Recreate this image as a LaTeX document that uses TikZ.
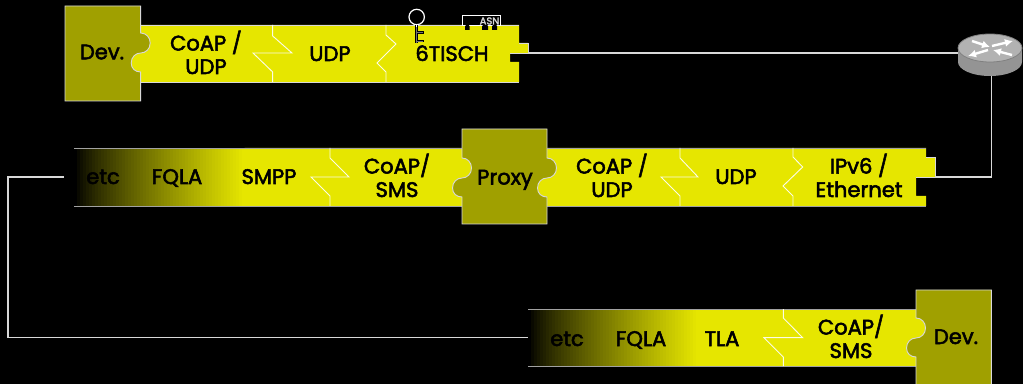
\documentclass[tikz,border=0pt]{standalone}
\usepackage{fontspec}
\setmainfont{Poppins}[FakeBold=2.5]
\usetikzlibrary{arrows.meta}
\definecolor{bandY}{HTML}{E6E600}
\definecolor{boxY}{HTML}{A0A000}
\definecolor{edgeG}{HTML}{D8D8D8}
\newcommand{\sdown}[2]{.. controls ({#1+5.5},{#2}) and ({#1+9.5},{#2+4.5}) .. ({#1+9.5},{#2+10}) .. controls ({#1+9.5},{#2+16}) and ({#1+5},{#2+20}) .. ({#1},{#2+20}) .. controls ({#1-5},{#2+20}) and ({#1-9.5},{#2+24}) .. ({#1-9.5},{#2+30}) .. controls ({#1-9.5},{#2+35.5}) and ({#1-5.5},{#2+39}) .. ({#1},{#2+39})}
\newcommand{\supward}[2]{.. controls ({#1-5.5},{#2+39}) and ({#1-9.5},{#2+35.5}) .. ({#1-9.5},{#2+30}) .. controls ({#1-9.5},{#2+24}) and ({#1-5},{#2+20}) .. ({#1},{#2+20}) .. controls ({#1+5},{#2+20}) and ({#1+9.5},{#2+16}) .. ({#1+9.5},{#2+10}) .. controls ({#1+9.5},{#2+4.5}) and ({#1+5.5},{#2}) .. ({#1},{#2})}
% #1 left x, #2 top y, #3 bottom y: black-to-yellow ramp over 171 px in strips
\newcommand{\ramp}[3]{\foreach \i in {0,...,56}{\pgfmathsetmacro{\pc}{\i==0 ? 0 : min(100,100*(\i/56)^0.8)}\fill[bandY!\pc!black] ({#1+\i*3},#2) rectangle ({#1+\i*3+3.6},#3);}}
\tikzset{
  lbl/.style={font=\fontsize{15.8}{17.6}\selectfont, text=black, inner sep=0pt, align=center, anchor=base},
  bandfill/.style={fill=bandY},
  rim/.style={draw=edgeG, line width=0.7pt},
  sep/.style={draw=white!90!bandY, line width=0.7pt, miter limit=10},
  boxshape/.style={fill=boxY, draw=edgeG, line width=0.7pt},
  wire/.style={draw=edgeG, line width=1.1pt},
  rarrow/.style={white, line width=1.8pt, -{Latex[length=6pt,width=6pt]}},
}
\begin{document}
\begin{tikzpicture}[x=0.75pt,y=-0.75pt]
\useasboundingbox[fill=black] (0,0) rectangle (1023,384);

% row 1 band
\path[bandfill] (125,25) -- (519,25) -- (519,43) -- (528,43) -- (528,53) -- (510,53) -- (510,62) -- (519,62) -- (519,82) -- (125,82) -- cycle;
\draw[rim] (125,25) -- (519,25) (125,82) -- (519,82) (519,43) -- (528,43) -- (528,53) -- (510,53);
\draw[sep] (272.7,25) -- (272.7,36) -- (292,53) -- (253,53) -- (272.7,72) -- (272.7,82);
\draw[sep] (386,25) -- (386,35) -- (396,44) -- (377,63) -- (386,72) -- (386,82);
\draw[boxshape] (65,6) -- (140.7,6) -- (140.7,33) \sdown{140.7}{33} -- (140.7,101) -- (65,101) -- cycle;
\node[lbl] (devAt) at (102,59.3) {Dev.};
\node[lbl] (coapA) at (206,74) {CoAP /\\UDP};
\node[lbl] (udpA) at (330,61) {UDP};
\node[lbl] (tisch) at (452,61) {6TISCH};

% key
\draw[white, line width=0.9pt] (416.7,17) circle [radius=7.7];
\draw[black, line width=2.4pt] (416.7,25) -- (416.7,43.5);
\draw[black, line width=2.2pt] (416.7,32.5) -- (424,32.5) (416.7,41) -- (424,41);
\draw[black!55, line width=0.5pt] (416.7,27) -- (416.7,43);
\draw[black!55, line width=0.4pt] (416.7,32.5) -- (423,32.5) (416.7,41) -- (423,41);
\draw[white, line width=0.8pt] (416.7,24.7) -- (416.7,27);

% chip
\fill[black] (465,24) rectangle (469.5,30) (482,24) rectangle (488,30) (492,24) rectangle (497,30);
\draw[white, line width=0.7pt, fill=black] (462,15) rectangle (500,25);
\fill[black] (465.5,24) rectangle (469,26) (482.5,24) rectangle (487.5,26) (492.5,24) rectangle (496.5,26);
\node[text=edgeG, font=\fontsize{7.5}{8}\selectfont, inner sep=0pt] (asn) at (489.5,21) {ASN};

% router
\node[inner sep=0pt, minimum width=48pt, minimum height=31pt] (router) at (990,55) {};
\fill[black!42] (958,48) -- (958,62) arc [start angle=180, end angle=0, x radius=32, y radius=14] -- (1022,48) -- cycle;
\fill[black!30, draw=black!50, line width=0.6pt] (990,48) ellipse [x radius=32, y radius=14];
\draw[rarrow] (972,41) -- (990,47);
\draw[rarrow] (992,46) -- (1013,41);
\draw[rarrow] (988,50) -- (968,56);
\draw[rarrow] (1012,55) -- (993,50);

% row 2 band
\ramp{74}{148}{206}
\path[bandfill] (244.5,148) -- (926,148) -- (926,157.7) -- (935,157.7) -- (935,177) -- (916,177) -- (916,196) -- (926,196) -- (926,206) -- (244.5,206) -- cycle;
\draw[rim, draw=edgeG!75!black] (74,148) -- (926,148) (74,206) -- (926,206);
\draw[rim] (926,157.7) -- (935,157.7) -- (935,177) -- (916,177);
\draw[sep] (330,148) -- (330,158) -- (349,177) -- (311,177) -- (330,196) -- (330,206);
\draw[sep] (680,148) -- (680,158) -- (698,177) -- (661,177) -- (680,196) -- (680,206);
\draw[sep] (793,148) -- (793,157) -- (802.7,167) -- (783,186) -- (793,196) -- (793,206);
\draw[boxshape] (462,129) -- (547,129) -- (547,158) \sdown{547}{158} -- (547,224) -- (462,224) -- (462,197) \supward{462}{158} -- cycle;
\node[lbl] (etcB) at (103,184) {etc};
\node[lbl] (fqlaB) at (177,184) {FQLA};
\node[lbl] (smpp) at (269,184) {SMPP};
\node[lbl] (coapB) at (397,197) {CoAP/\\SMS};
\node[lbl] (proxy) at (505,184.5) {Proxy};
\node[lbl] (coapC) at (612,197) {CoAP /\\UDP};
\node[lbl] (udpC) at (736,184) {UDP};
\node[lbl] (ipv6) at (859,197) {IPv6 /\\Ethernet};

% row 3 band
\ramp{528}{309}{366}
\path[bandfill] (698,309) rectangle (930,366);
\draw[rim, draw=edgeG!75!black] (528,309) -- (916,309) (528,366) -- (916,366);
\draw[sep] (783.3,309) -- (783.3,318) -- (802.7,337.7) -- (764,337.7) -- (783.3,357) -- (783.3,366);
\draw[boxshape] (916,290) -- (991.3,290) -- (991.3,392) -- (916,392) -- (916,357) \supward{916}{318} -- cycle;
\node[lbl] (etcC) at (567,346) {etc};
\node[lbl] (fqlaC) at (641,346) {FQLA};
\node[lbl] (tla) at (722,346) {TLA};
\node[lbl] (coapD) at (851,358) {CoAP/\\SMS};
\node[lbl] (devC) at (956,344) {Dev.};

% connectors
\coordinate (tabA) at (528,53);
\coordinate (routerL) at (958,53);
\coordinate (routerB) at (991.7,76);
\coordinate (tabB) at (935,177);
\coordinate (cornerR) at (991.7,177);
\coordinate (freeB) at (64,177);
\coordinate (cornerL) at (8,177);
\coordinate (cornerLL) at (8,337.5);
\coordinate (freeC) at (528,337.5);
\draw[wire] (tabA) -- (routerL);
\draw[wire] (routerB) -- (cornerR) -- (tabB);
\draw[wire] (freeB) -- (cornerL) -- (cornerLL) -- (freeC);
\end{tikzpicture}
\end{document}
